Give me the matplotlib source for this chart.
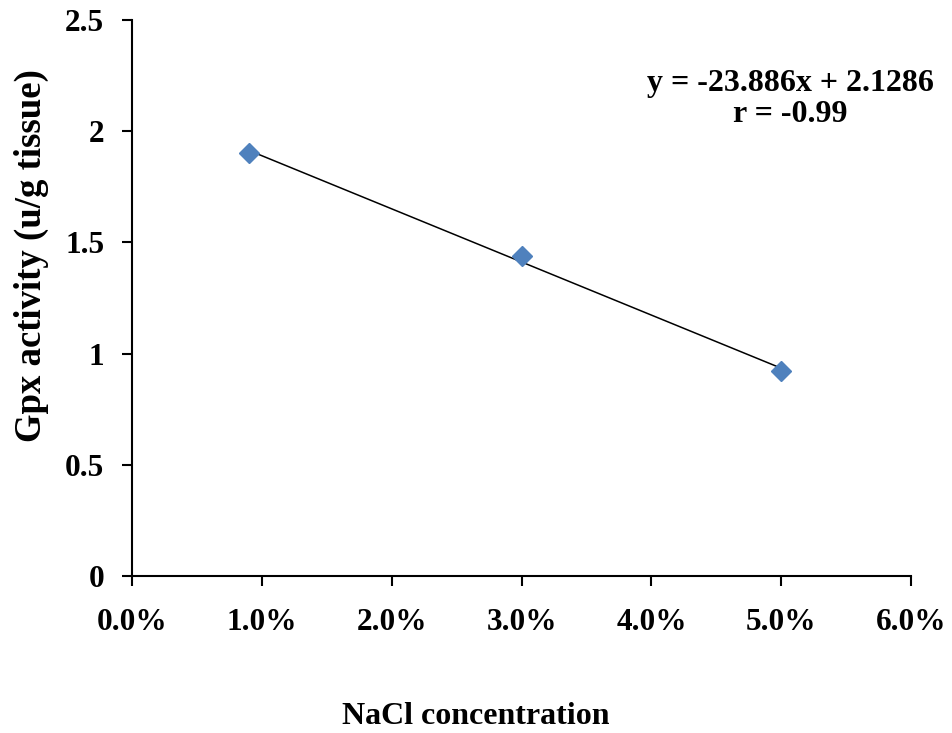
import numpy as np
import matplotlib.pyplot as plt
from matplotlib.ticker import PercentFormatter

# data
nacl = [0.009, 0.03, 0.05]
gpx = [1.90, 1.44, 0.92]
slope = -23.886
intercept = 2.1286

plt.rcParams['font.family'] = ['Liberation Serif', 'DejaVu Serif']
plt.rcParams['font.weight'] = 'bold'

fig = plt.figure(figsize=(9.52, 7.33), dpi=100)
ax = fig.add_axes([0.1387, 0.2142, 0.9570 - 0.1387, 0.9727 - 0.2142])

# trendline over data range
xfit = np.array([min(nacl), max(nacl)])
ax.plot(xfit, slope * xfit + intercept, color='black', linewidth=1.1, zorder=2)
ax.plot(nacl, gpx, linestyle='none', marker='D', markersize=10.5,
        color='#4F81BD', zorder=3)

ax.set_xlim(0, 0.06)
ax.set_ylim(0, 2.5)
ax.set_xticks(np.arange(0, 0.061, 0.01))
ax.set_yticks([0, 0.5, 1, 1.5, 2, 2.5])
ax.set_yticklabels(['0', '0.5', '1', '1.5', '2', '2.5'])
ax.xaxis.set_major_formatter(PercentFormatter(1.0, decimals=1))

for s in ['top', 'right']:
    ax.spines[s].set_visible(False)
for s in ['left', 'bottom']:
    ax.spines[s].set_linewidth(1.5)

ax.tick_params(direction='out', length=7, width=1.5, labelsize=22.5)
ax.tick_params(axis='y', pad=13)
ax.tick_params(axis='x', pad=16)
for lab in ax.get_xticklabels() + ax.get_yticklabels():
    lab.set_fontweight('bold')

fig.text(476 / 952, 1 - 717 / 733, 'NaCl concentration', fontsize=23,
         fontweight='bold', ha='center', va='center')
fig.text(31 / 952, 1 - 256 / 733, 'Gpx activity (u/g tissue)', fontsize=26.5,
         fontweight='bold', ha='center', va='center', rotation=90)

ax.text(0.845, 0.858, 'y = -23.886x + 2.1286\nr = -0.99', transform=ax.transAxes,
        ha='center', va='center', fontsize=23, fontweight='bold', linespacing=1.12)

fig.savefig('out.png', dpi=100)
